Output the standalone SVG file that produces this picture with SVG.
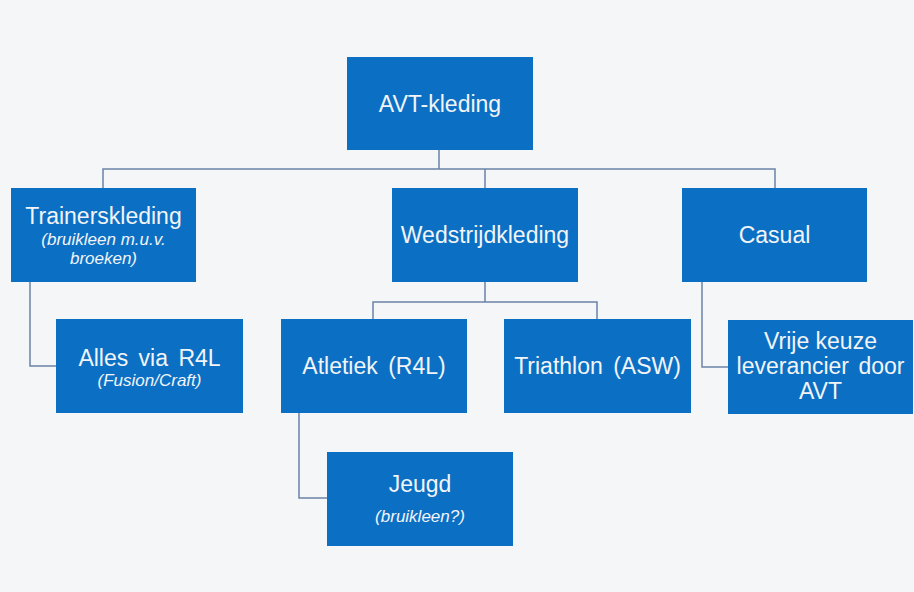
<svg xmlns="http://www.w3.org/2000/svg" width="914" height="592" viewBox="0 0 914 592">
<style>
.box{fill:#0b70c4;}
.t{font-family:"Liberation Sans",Arial,sans-serif;fill:#f2f4f7;text-anchor:middle;font-size:23px;}
.s{font-family:"Liberation Sans",Arial,sans-serif;fill:#f2f4f7;text-anchor:middle;font-size:17px;font-style:italic;}
.c{fill:none;stroke:#6a84a8;stroke-width:1.5;}
</style>
<rect width="914" height="592" fill="#f5f6f7"/>
<g id="connectors">
<path class="c" d="M439,150 V169 M103,188 V169 H775 V188 M485,169 V188"/>
<path class="c" d="M485,282 V302 M373,319 V302 H597 V319"/>
<path class="c" d="M30,282 V366 H56"/>
<path class="c" d="M702,282 V367 H728"/>
<path class="c" d="M299,413 V498 H327"/>
</g>
<g id="avt-kleding"><rect class="box" x="347" y="57" width="186" height="93"/><text class="t" x="440" y="112">AVT-kleding</text></g>
<g id="trainerskleding"><rect class="box" x="11" y="188" width="185" height="94"/><text class="t" x="103.5" y="224">Trainerskleding</text><text class="s" x="103.5" y="245">(bruikleen m.u.v.</text><text class="s" x="103.5" y="264">broeken)</text></g>
<g id="wedstrijdkleding"><rect class="box" x="392" y="188" width="186" height="94"/><text class="t" x="485" y="243">Wedstrijdkleding</text></g>
<g id="casual"><rect class="box" x="682" y="188" width="185" height="94"/><text class="t" x="774.5" y="243">Casual</text></g>
<g id="alles-via-r4l"><rect class="box" x="56" y="319" width="187" height="94"/><text class="t" x="149.5" y="366" word-spacing="4">Alles via R4L</text><text class="s" x="149.5" y="386">(Fusion/Craft)</text></g>
<g id="atletiek"><rect class="box" x="281" y="319" width="186" height="94"/><text class="t" x="374" y="374" word-spacing="4">Atletiek (R4L)</text></g>
<g id="triathlon"><rect class="box" x="504" y="319" width="187" height="94"/><text class="t" x="597.5" y="374" word-spacing="4">Triathlon (ASW)</text></g>
<g id="vrije-keuze"><rect class="box" x="728" y="320" width="185" height="94"/><text class="t" x="820.5" y="349">Vrije keuze</text><text class="t" x="820.5" y="374" word-spacing="3">leverancier door</text><text class="t" x="820.5" y="399">AVT</text></g>
<g id="jeugd"><rect class="box" x="327" y="452" width="186" height="94"/><text class="t" x="420" y="492">Jeugd</text><text class="s" x="420" y="522">(bruikleen?)</text></g>
</svg>
